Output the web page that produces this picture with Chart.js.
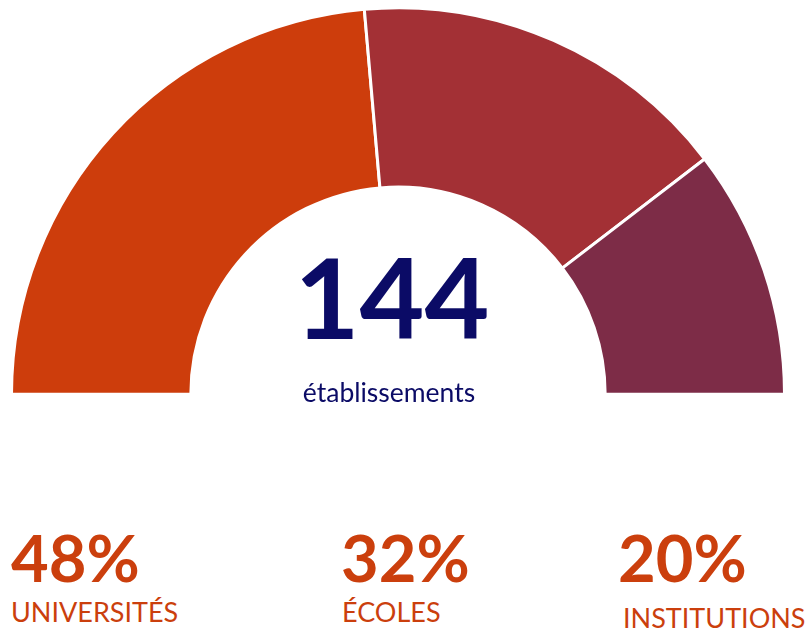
<!DOCTYPE html>
<html>
<head>
<meta charset="utf-8">
<script src="https://cdn.jsdelivr.net/npm/chart.js@4"></script>
<style>
  body { margin: 0; background: #fff; font-family: Lato, "Open Sans", sans-serif; }
  #wrap { position: relative; width: 810px; height: 628px; }
  #box { position: absolute; left: 10px; top: 6px; width: 776px; height: 390px; }
  .t { position: absolute; line-height: 1; white-space: nowrap; }
  #total { left: 192px; width: 400px; top: 240px; text-align: center; font-size: 112px; font-weight: 700; color: #0b0b66; }
  #unit { left: 189px; width: 400px; top: 379px; text-align: center; font-size: 26.5px; color: #0b0b66; }
  .pct { font-size: 65px; font-weight: 700; color: #cb3f0d; top: 525px; }
  .lab { font-size: 27px; color: #cb3f0d; }
</style>
</head>
<body>
<div id="wrap">
  <div id="box"><canvas id="c"></canvas></div>
  <div class="t" id="total"></div>
  <div class="t" id="unit">établissements</div>
  <div id="labels"></div>
</div>
<script>
// Data
const categories = ["UNIVERSITÉS", "ÉCOLES", "INSTITUTIONS"];
const counts = [68, 46, 30];
const percents = ["48%", "32%", "20%"];
const colors = ["#cd3d0c", "#a33035", "#7d2c47"];
const total = 144;

// Bottom labels (left positions per category)
const pctLeft = [11, 341, 618];
const labLeft = [11, 342, 623];
const labTop = [598, 598, 604];

document.getElementById("total").textContent = total;
const labels = document.getElementById("labels");
categories.forEach((cat, i) => {
    const p = document.createElement("div");
    p.className = "t pct";
    p.style.left = pctLeft[i] + "px";
    p.textContent = percents[i];
    labels.appendChild(p);
    const l = document.createElement("div");
    l.className = "t lab";
    l.style.left = labLeft[i] + "px";
    l.style.top = labTop[i] + "px";
    l.textContent = cat;
    labels.appendChild(l);
});

new Chart(document.getElementById("c").getContext("2d"), {
    type: "doughnut",
    data: {
        labels: categories,
        datasets: [{
            data: counts,
            backgroundColor: colors,
            borderColor: "#ffffff",
            borderWidth: 3,
            hoverOffset: 0
        }]
    },
    options: {
        responsive: true,
        maintainAspectRatio: false,
        animation: false,
        rotation: -90,
        circumference: 180,
        cutout: "53.6%",
        layout: { padding: 0 },
        plugins: {
            legend: { display: false },
            tooltip: { enabled: false }
        }
    }
});
</script>
</body>
</html>
